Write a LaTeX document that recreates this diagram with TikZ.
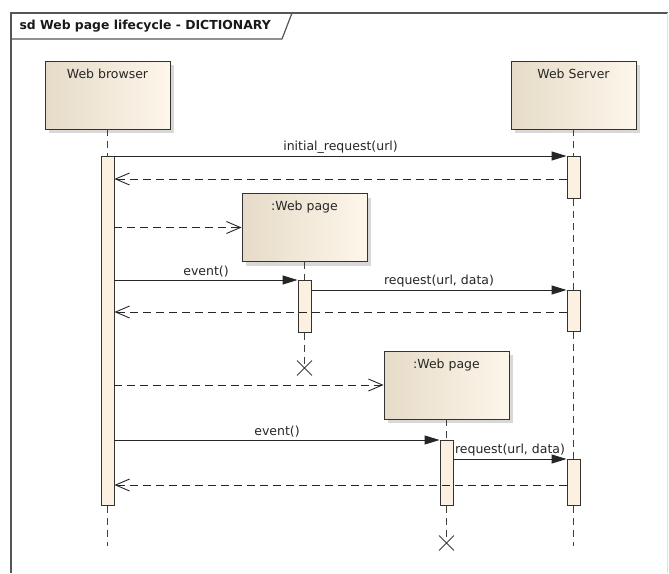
\documentclass[tikz,border=0pt]{standalone}
\usepackage{fontspec}
\setmainfont{DejaVu Sans}
\usetikzlibrary{arrows.meta,shadows,shapes.misc}
\definecolor{headleft}{RGB}{230,219,200}
\definecolor{headright}{RGB}{253,246,234}
\definecolor{barfill}{RGB}{252,240,224}
\definecolor{framegray}{RGB}{85,85,85}

\begin{document}
\begin{tikzpicture}[
    x=1pt, y=-1pt,
    font=\fontsize{12.5}{15}\selectfont,
    text=black!85,
    head/.style={
        draw=black!80,
        line width=0.9pt,
        left color=headleft,
        right color=headright,
        drop shadow={shadow xshift=4pt, shadow yshift=-4pt, opacity=0.3},
        minimum width=125pt,
        minimum height=68pt,
        inner ysep=8pt,
        text height=9pt,
        text depth=43pt
    },
    actbar/.style={
        draw=black!80,
        line width=0.9pt,
        fill=barfill,
        minimum width=13pt,
        inner sep=0pt,
        anchor=north
    },
    life/.style={draw=black!75, line width=0.9pt, dash pattern=on 7pt off 5pt},
    msg/.style={-{Triangle[length=15pt,width=9pt]}, line width=0.9pt, black!85},
    reply/.style={-{Straight Barb[length=14pt,width=12pt]}, line width=0.9pt, dash pattern=on 8pt off 5pt, black!85},
    kill/.style={cross out, draw=black!75, line width=0.9pt, minimum size=14pt, inner sep=0pt},
    lbl/.style={midway, above, inner sep=2pt, text=black!85}
]
\path[use as bounding box, fill=white] (0,0) rectangle (669,573);

\draw[framegray, line width=1.4pt] (11,573) -- (11,13) -- (668,13);
\draw[black!12, line width=0.8pt] (667,13) -- (667,573);
\draw[framegray, line width=1.2pt] (11,39) -- (282,39) -- (292,13);
\node[anchor=west, font=\fontsize{12.4}{14}\selectfont\bfseries, text=black!90] (title) at (16,26) {sd Web page lifecycle - DICTIONARY};

\node[head] (browser) at (107.5,95) {Web browser};
\node[head] (server) at (573.5,95) {Web Server};
\node[head] (page1) at (304.5,227.5) {:Web page};
\node[head] (page2) at (446.5,385) {:Web page};

\node[actbar, minimum height=349pt] (brbar) at (107.5,156) {};
\node[actbar, minimum height=42pt] (srvbar1) at (573.5,156) {};
\node[actbar, minimum height=41pt] (srvbar2) at (573.5,290) {};
\node[actbar, minimum height=46pt] (srvbar3) at (573.5,459) {};
\node[actbar, minimum height=52pt] (pgbar1) at (304.5,280) {};
\node[actbar, minimum height=65pt] (pgbar2) at (446.5,440) {};

\node[kill] (end1) at (304.5,368) {};
\node[kill] (end2) at (446.5,543) {};
\coordinate (brend) at (107.5,546);
\coordinate (srvend) at (573.5,546);

\draw[life] (browser.south) -- (brbar.north);
\draw[life] (brbar.south) -- (brend);
\draw[life] (server.south) -- (srvbar1.north);
\draw[life] (srvbar1.south) -- (srvbar2.north);
\draw[life] (srvbar2.south) -- (srvbar3.north);
\draw[life] (srvbar3.south) -- (srvend);
\draw[life] (page1.south) -- (pgbar1.north);
\draw[life] (pgbar1.south) -- (end1.center);
\draw[life] (page2.south) -- (pgbar2.north);
\draw[life] (pgbar2.south) -- (end2.center);

\coordinate (ret1) at (0,179);
\coordinate (ret2) at (0,312);
\coordinate (ret3) at (0,485);

\draw[msg] (brbar.north east) -- (srvbar1.north west) node[lbl] {initial\_request(url)};
\draw[reply] (srvbar1.west |- ret1) -- (brbar.east |- ret1);
\draw[reply] (brbar.east |- page1.west) -- (page1.west);
\draw[msg] (brbar.east |- pgbar1.north) -- (pgbar1.north west) node[lbl] {event()};
\draw[msg] (pgbar1.east |- srvbar2.north) -- (srvbar2.north west) node[lbl] {request(url, data)};
\draw[reply] (srvbar2.west |- ret2) -- (brbar.east |- ret2);
\draw[reply] (brbar.east |- page2.west) -- (page2.west);
\draw[msg] (brbar.east |- pgbar2.north) -- (pgbar2.north west) node[lbl] {event()};
\draw[msg] (pgbar2.east |- srvbar3.north) -- (srvbar3.north west) node[lbl] {request(url, data)};
\draw[reply] (srvbar3.west |- ret3) -- (brbar.east |- ret3);
\end{tikzpicture}
\end{document}
